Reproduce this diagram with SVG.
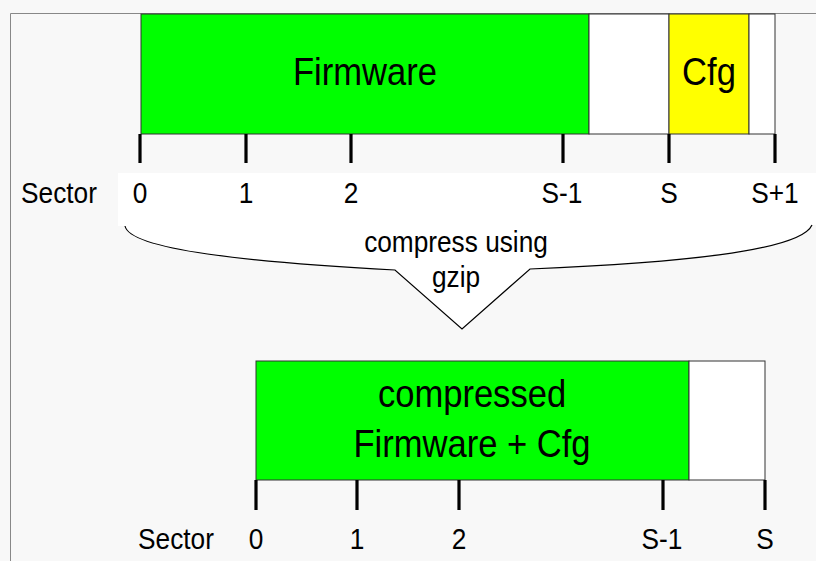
<svg xmlns="http://www.w3.org/2000/svg" width="816" height="561" viewBox="0 0 816 561">
<style>
.t{font-family:"Liberation Sans",Arial,sans-serif;fill:#000;text-anchor:middle}
.lbl{font-size:30px}
.big{font-size:39.5px}
.seg{stroke:#333;stroke-width:1}
.tick{stroke:#000;stroke-width:3.2}
.frame{stroke:#888;stroke-width:1;fill:none}
.brace{fill:#fff;stroke:none}
.bline{fill:none;stroke:#000;stroke-width:1.2}
</style>
<rect x="0" y="0" width="816" height="561" fill="#f8f8f8"/>
<path class="frame" d="M10.5,561 V13.5 H816"/>

<g id="flash">
  <rect class="seg" x="141" y="14" width="448" height="120" fill="#00ff00"/>
  <rect class="seg" x="589" y="14" width="80" height="120" fill="#fff"/>
  <rect class="seg" x="669" y="14" width="80" height="120" fill="#ffff00"/>
  <rect class="seg" x="749" y="14" width="26" height="120" fill="#fff"/>
  <text class="t big" transform="translate(365,85) scale(0.875,1)">Firmware</text>
  <text class="t big" transform="translate(709,85) scale(0.875,1)">Cfg</text>
</g>

<g id="compress-callout">
  <path class="brace" d="M118,173 H816 V225 H812 C800,252 670,263 530,269 L462,329 L395,270 C250,262 130,250 125,226 H118 Z"/>
  <path class="bline" d="M812,225 C800,252 670,263 530,269 L462,329 L395,270 C250,262 130,250 125,226"/>
  <text class="t lbl" transform="translate(456,252) scale(0.875,1)">compress using</text>
  <text class="t lbl" transform="translate(456,287) scale(0.875,1)">gzip</text>
</g>

<g id="flash-scale">
  <line class="tick" x1="140" y1="134" x2="140" y2="163"/>
  <line class="tick" x1="246" y1="134" x2="246" y2="163"/>
  <line class="tick" x1="351" y1="134" x2="351" y2="163"/>
  <line class="tick" x1="563" y1="134" x2="563" y2="163"/>
  <line class="tick" x1="669" y1="134" x2="669" y2="163"/>
  <line class="tick" x1="775" y1="134" x2="775" y2="163"/>
  <text class="t lbl" transform="translate(59,203) scale(0.875,1)">Sector</text>
  <text class="t lbl" transform="translate(140,203) scale(0.875,1)">0</text>
  <text class="t lbl" transform="translate(246,203) scale(0.875,1)">1</text>
  <text class="t lbl" transform="translate(351,203) scale(0.875,1)">2</text>
  <text class="t lbl" transform="translate(562,203) scale(0.875,1)">S-1</text>
  <text class="t lbl" transform="translate(669,203) scale(0.875,1)">S</text>
  <text class="t lbl" transform="translate(775,203) scale(0.875,1)">S+1</text>
</g>

<g id="compressed">
  <rect class="seg" x="256" y="361" width="433" height="119" fill="#00ff00"/>
  <rect class="seg" x="689" y="361" width="76" height="119" fill="#fff"/>
  <text class="t big" transform="translate(472,407) scale(0.875,1)">compressed</text>
  <text class="t big" transform="translate(472,457) scale(0.875,1)">Firmware + Cfg</text>
</g>

<g id="compressed-scale">
  <line class="tick" x1="256" y1="480" x2="256" y2="510"/>
  <line class="tick" x1="357" y1="480" x2="357" y2="510"/>
  <line class="tick" x1="459" y1="480" x2="459" y2="510"/>
  <line class="tick" x1="663" y1="480" x2="663" y2="510"/>
  <line class="tick" x1="765" y1="480" x2="765" y2="510"/>
  <text class="t lbl" transform="translate(176,549) scale(0.875,1)">Sector</text>
  <text class="t lbl" transform="translate(256,549) scale(0.875,1)">0</text>
  <text class="t lbl" transform="translate(357,549) scale(0.875,1)">1</text>
  <text class="t lbl" transform="translate(459,549) scale(0.875,1)">2</text>
  <text class="t lbl" transform="translate(662,549) scale(0.875,1)">S-1</text>
  <text class="t lbl" transform="translate(765,549) scale(0.875,1)">S</text>
</g>
</svg>
